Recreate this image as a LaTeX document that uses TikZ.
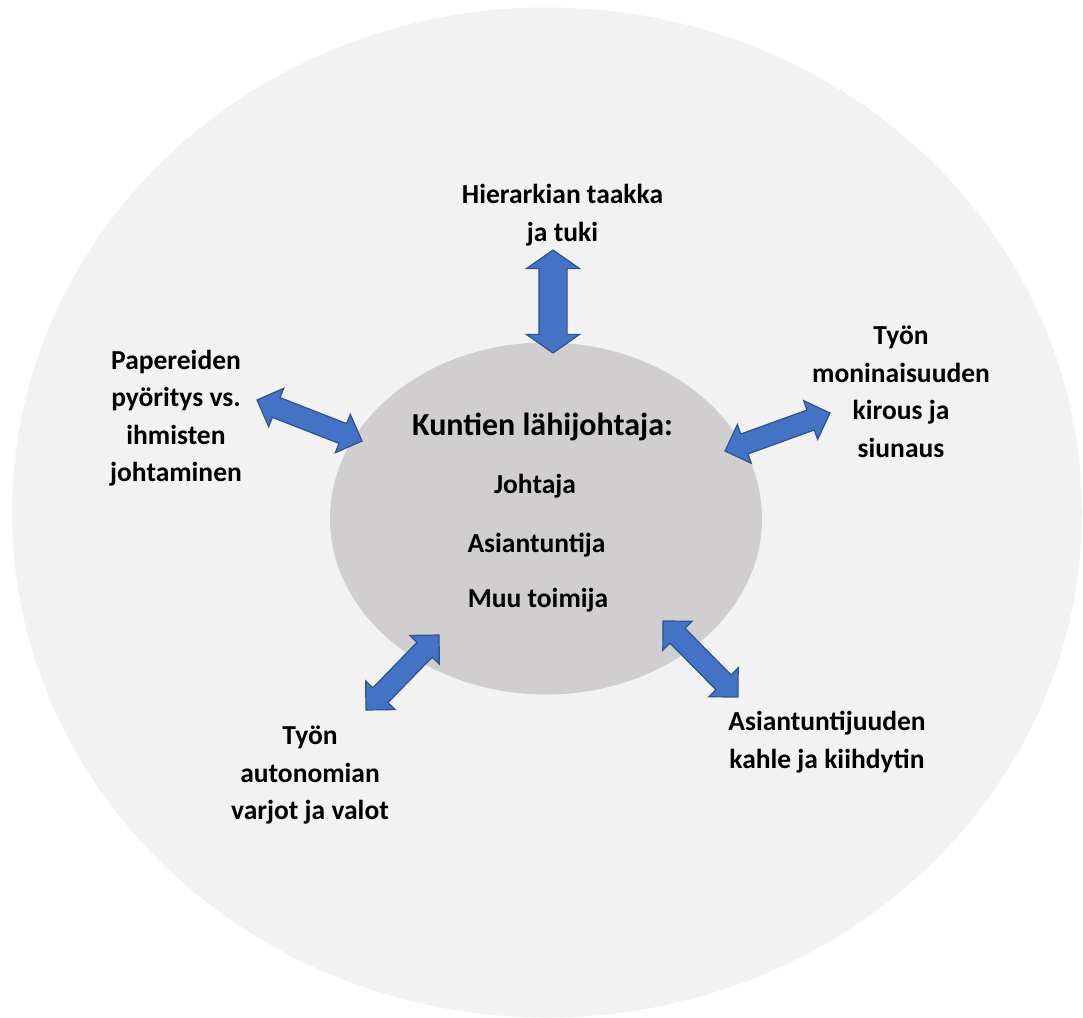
\documentclass[tikz,border=0pt]{standalone}
\usepackage{fontspec}
\setmainfont{Carlito}
\usetikzlibrary{shapes.arrows,shapes.geometric,calc}
\definecolor{outergray}{HTML}{F2F2F2}
\definecolor{innergray}{HTML}{D0CECE}
\definecolor{arrowblue}{HTML}{4472C4}
\definecolor{arrowedge}{HTML}{2F528F}
% block arrow with two heads between two named points
\newcommand{\twoway}[3][]{%
  \path let \p1=($(#3)-(#2)$), \n1={atan2(\y1,\x1)}, \n2={veclen(\x1,\y1)} in
    node[twoarrow, #1, minimum height=\n2, rotate=\n1] at ($(#2)!0.5!(#3)$) {};}
\begin{document}
\begin{tikzpicture}[x=1pt, y=-1pt,
    theme/.style={font=\bfseries\fontsize{27.5}{37.5}\selectfont, align=center},
    twoarrow/.style={double arrow, draw=arrowedge, fill=arrowblue, line width=1.2pt,
        inner xsep=0pt, inner ysep=10pt, minimum width=40pt, double arrow head extend=10pt,
        double arrow tip angle=90}]
\useasboundingbox[fill=white] (0,0) rectangle (1083,1017);
\fill[outergray] (547,512.5) ellipse [x radius=535pt, y radius=505pt];
\node[ellipse, fill=innergray, minimum width=432pt, minimum height=352pt] (core) at (546,518.5) {};

\node[anchor=base, font=\bfseries\fontsize{32}{38}\selectfont] (title) at (542.5,435) {Kuntien lähijohtaja:};
\node[theme, anchor=base] (leader) at (535,493) {Johtaja};
\node[theme, anchor=base] (expert) at (536.5,552) {Asiantuntija};
\node[theme, anchor=base] (other) at (538,607) {Muu toimija};

\node[theme] (hier) at (562.5,215) {Hierarkian taakka\\ja tuki};
\node[theme] (paper) at (176,418) {Papereiden\\pyöritys vs.\\ihmisten\\johtaminen};
\node[theme] (variety) at (901,392) {Työn\\moninaisuuden\\kirous ja\\siunaus};
\node[theme] (auto) at (310,775) {Työn\\autonomian\\varjot ja valot};
\node[theme] (chain) at (827,742) {Asiantuntijuuden\\kahle ja kiihdytin};

\coordinate (h1) at (553,250);  \coordinate (h2) at (553,353);
\coordinate (p1) at (257,400);  \coordinate (p2) at (362,441);
\coordinate (v1) at (725,451);  \coordinate (v2) at (830,413);
\coordinate (a1) at (366,710);  \coordinate (a2) at (439,635);
\coordinate (c1) at (663,621);  \coordinate (c2) at (738,697);

\twoway[inner ysep=13.5pt, minimum width=52pt, double arrow head extend=12.5pt, double arrow tip angle=110]{h1}{h2}
\twoway{p1}{p2}
\twoway{v1}{v2}
\twoway{a1}{a2}
\twoway{c1}{c2}
\end{tikzpicture}
\end{document}
